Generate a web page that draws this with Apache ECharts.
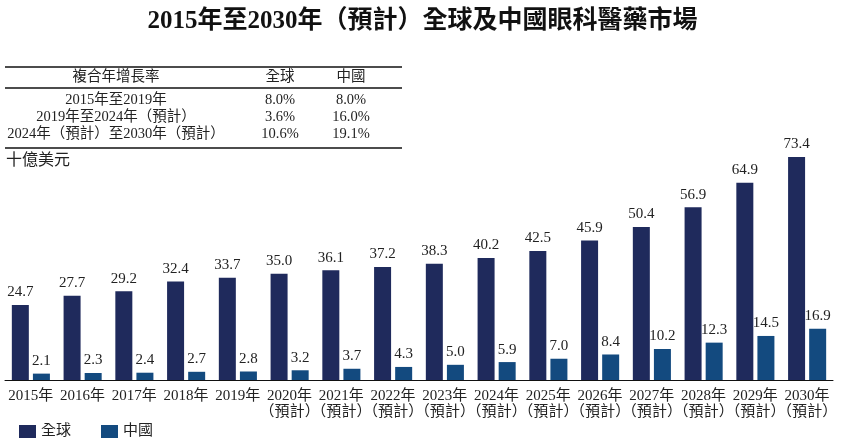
<!DOCTYPE html>
<html>
<head>
<meta charset="utf-8">
<script src="https://cdn.jsdelivr.net/npm/echarts@6/dist/echarts.min.js"></script>
<style>
html,body{margin:0;padding:0;background:#fff;}
#chart{width:845px;height:439px;}
</style>
</head>
<body>
<div id="chart"></div>
<script>
const years = ['2015年','2016年','2017年','2018年','2019年','2020年\n（預計）','2021年\n（預計）','2022年\n（預計）','2023年\n（預計）','2024年\n（預計）','2025年\n（預計）','2026年\n（預計）','2027年\n（預計）','2028年\n（預計）','2029年\n（預計）','2030年\n（預計）'];
const globalValues = [24.7,27.7,29.2,32.4,33.7,35.0,36.1,37.2,38.3,40.2,42.5,45.9,50.4,56.9,64.9,73.4];
const chinaValues = [2.1,2.3,2.4,2.7,2.8,3.2,3.7,4.3,5.0,5.9,7.0,8.4,10.2,12.3,14.5,16.9];
const seriesNames = ['全球','中國'];
const tableHeader = ['複合年增長率','全球','中國'];
const tablePeriods = ['2015年至2019年','2019年至2024年（預計）','2024年（預計）至2030年（預計）'];
const tableGlobal = ['8.0%','3.6%','10.6%'];
const tableChina = ['8.0%','16.0%','19.1%'];
const titleText = '2015年至2030年（預計）全球及中國眼科醫藥市場';
const unitText = '十億美元';

const FONT = "'Liberation Serif', 'Noto Sans CJK TC', serif";
const chart = echarts.init(document.getElementById('chart'));

const graphics = [];
function txt(x, y, s, align, size, extra) {
  graphics.push(Object.assign({
    type: 'text', x: x, y: y,
    style: { text: s, fill: '#222', font: (size||14.5) + 'px ' + FONT, textAlign: align || 'center', textVerticalAlign: 'middle' }
  }, extra || {}));
}
function line(y) {
  graphics.push({ type: 'line', shape: { x1: 5, y1: y, x2: 402, y2: y }, style: { stroke: '#111', lineWidth: 1.5 } });
}
line(67); line(88); line(148);
const colX = [116, 280, 351];
txt(colX[0], 77, tableHeader[0]);
txt(colX[1], 77, tableHeader[1]);
txt(colX[2], 77, tableHeader[2]);
const rowY = [100, 117, 134];
tablePeriods.forEach((p, i) => {
  txt(colX[0], rowY[i], p);
  txt(colX[1], rowY[i], tableGlobal[i]);
  txt(colX[2], rowY[i], tableChina[i]);
});
txt(6, 161, unitText, 'left', 16);

chart.setOption({
  animation: false,
  title: {
    text: titleText, left: 'center', top: 4,
    textStyle: { fontFamily: FONT, fontSize: 25, fontWeight: 'bold', color: '#111' }
  },
  legend: {
    left: 14, top: 419, itemWidth: 17, itemHeight: 13, itemGap: 30, icon: 'rect',
    data: seriesNames,
    textStyle: { fontFamily: FONT, fontSize: 15, color: '#222' }
  },
  grid: { left: 5, right: 12, top: 137, bottom: 59, containLabel: false },
  xAxis: {
    type: 'category', data: years,
    axisLine: { lineStyle: { color: '#111', width: 1 } },
    axisTick: { show: false },
    axisLabel: { interval: 0, fontFamily: FONT, fontSize: 15, color: '#222', lineHeight: 16, margin: 8 }
  },
  yAxis: {
    type: 'value', min: 0, max: 80,
    show: false, splitLine: { show: false }
  },
  series: [
    {
      name: seriesNames[0], type: 'bar', data: globalValues, barWidth: 17, barGap: '24%',
      itemStyle: { color: '#1f2a5c' },
      label: { show: true, position: 'top', distance: 5, fontFamily: FONT, fontSize: 15, color: '#222', formatter: p => p.value.toFixed(1) }
    },
    {
      name: seriesNames[1], type: 'bar', data: chinaValues, barWidth: 17,
      itemStyle: { color: '#134a7f' },
      label: { show: true, position: 'top', distance: 5, fontFamily: FONT, fontSize: 15, color: '#222', formatter: p => p.value.toFixed(1) }
    }
  ],
  graphic: graphics
});
</script>
</body>
</html>
